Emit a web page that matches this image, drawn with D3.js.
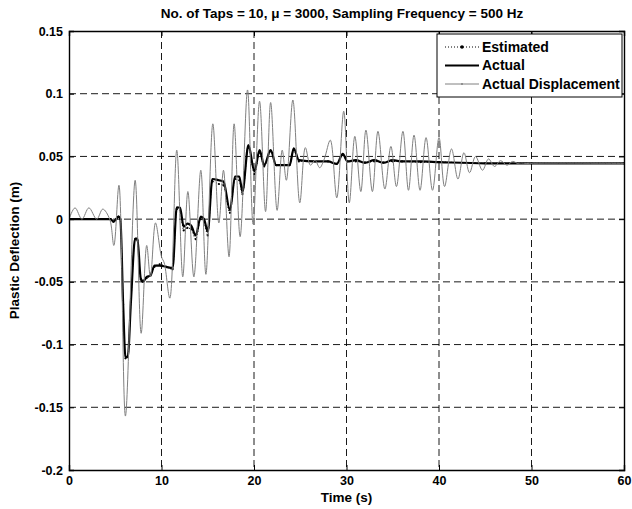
<!DOCTYPE html>
<html>
<head>
<meta charset="utf-8">
<script src="https://cdn.jsdelivr.net/npm/d3@7"></script>
<style>
  body { margin: 0; background: #fff; }
  svg { display: block; font-family: Arial, "Liberation Sans", sans-serif; }
</style>
</head>
<body>
<svg id="chart"></svg>
<script>
// values
var dispT = [0, 0.65, 1.4, 2.15, 3.0, 3.65, 4.4, 4.85, 5.4, 6.1, 7.15, 7.8, 8.4, 8.8, 9.35, 10.0, 10.3, 10.9, 11.65, 12.3, 12.85, 13.5, 14.25, 14.8, 15.55, 16.2, 16.7, 17.3, 17.85, 18.5, 19.3, 19.9, 20.6, 21.25, 21.8, 22.5, 23.05, 23.5, 24.2, 24.95, 25.55, 26.1, 26.6, 27.1, 27.6, 28.25, 28.95, 29.7, 30.3, 30.9, 31.55, 32.1, 32.8, 33.4, 34.15, 34.8, 35.4, 36.1, 36.7, 37.3, 37.95, 38.6, 39.3, 40.0, 40.6, 41.35, 42.05, 42.7, 43.3, 43.95, 44.7, 45.35, 46.0, 46.65, 47.35, 47.95, 48.65, 49.8, 60]
var dispV = [0, 0.009, 0, 0.009, 0, 0.008, 0, -0.021, 0.027, -0.157, 0.031, -0.091, -0.021, -0.046, -0.003, -0.030, -0.035, -0.063, 0.055, -0.046, 0.022, -0.046, 0.039, -0.044, 0.076, -0.003, 0.039, -0.030, 0.076, -0.014, 0.103, -0.004, 0.094, 0.006, 0.093, 0.007, 0.055, 0.031, 0.095, 0.013, 0.057, 0.043, 0.047, 0.041, 0.048, 0.063, 0.017, 0.086, 0.013, 0.066, 0.022, 0.071, 0.022, 0.070, 0.024, 0.058, 0.026, 0.070, 0.023, 0.067, 0.023, 0.065, 0.023, 0.065, 0.026, 0.056, 0.032, 0.053, 0.037, 0.050, 0.039, 0.048, 0.042, 0.0466, 0.043, 0.046, 0.044, 0.0445, 0.0445]

var actT = [0, 4.5, 4.8, 5.1, 5.35, 5.55, 5.85, 6.1, 6.35, 6.7, 7.15, 7.4, 7.75, 8.0, 8.4, 8.8, 9.25, 9.8, 10.5, 11.2, 11.65, 12.0, 12.4, 12.8, 13.2, 13.7, 14.25, 14.6, 15.0, 15.5, 16.2, 16.7, 17.4, 17.95, 18.4, 18.75, 19.4, 20.05, 20.6, 21.1, 21.8, 22.4, 23.85, 24.3, 24.85, 26.6, 28.0, 28.95, 29.6, 30.1, 31.0, 32.0, 33.0, 34.0, 35.0, 36.0, 38.0, 40.0, 45.0, 50.0, 60]
var actV = [0, 0, -0.002, 0, 0.002, 0, -0.067, -0.110, -0.110, -0.065, -0.0155, -0.0155, -0.047, -0.050, -0.046, -0.045, -0.037, -0.037, -0.038, -0.039, 0.0095, 0.009, -0.006, -0.0035, -0.005, -0.013, 0.002, 0.0, -0.010, 0.032, 0.031, 0.030, 0.007, 0.034, 0.034, 0.022, 0.059, 0.038, 0.055, 0.043, 0.055, 0.043, 0.043, 0.0565, 0.047, 0.046, 0.046, 0.044, 0.052, 0.046, 0.047, 0.045, 0.047, 0.045, 0.047, 0.046, 0.046, 0.0455, 0.0445, 0.0445, 0.0445]
var estV = [0, 0, -0.002, 0, 0.002, 0, -0.068, -0.111, -0.109, -0.066, -0.016, -0.017, -0.048, -0.049, -0.047, -0.045, -0.038, -0.036, -0.038, -0.040, 0.008, 0.007, -0.009, -0.007, -0.008, -0.016, 0.000, -0.002, -0.013, 0.030, 0.028, 0.027, 0.005, 0.032, 0.031, 0.020, 0.057, 0.036, 0.053, 0.042, 0.054, 0.043, 0.043, 0.055, 0.046, 0.046, 0.046, 0.044, 0.051, 0.046, 0.046, 0.045, 0.046, 0.045, 0.046, 0.046, 0.0455, 0.0455, 0.0445, 0.0445, 0.0445]

var xTicks = [0, 10, 20, 30, 40, 50, 60]
var yTicks = [0.15, 0.1, 0.05, 0, -0.05, -0.1, -0.15, -0.2]
var yTickLabels = ["0.15", "0.1", "0.05", "0", "-0.05", "-0.1", "-0.15", "-0.2"]
var seriesNames = ["Estimated", "Actual", "Actual Displacement"]

var W = 632, H = 509
var padL = 69, padR = 624, padT = 31, padB = 470
var grey = "#808080"

var svg = d3.select("#chart").attr("width", W).attr("height", H)
svg.append("rect").attr("width", W).attr("height", H).attr("fill", "#fff")

var x = d3.scaleLinear().domain([0, 60]).range([padL, padR])
var y = d3.scaleLinear().domain([-0.2, 0.15]).range([padB, padT])

function pts(ts, vs) {
  return ts.map(function(t, i) { return [t, vs[i]] })
}

// grid
var grid = svg.append("g")
grid.selectAll(".gx").data(xTicks.slice(1, -1)).enter().append("line")
  .attr("x1", function(d) { return x(d) }).attr("x2", function(d) { return x(d) })
  .attr("y1", padT).attr("y2", padB)
  .attr("stroke", "#000").attr("stroke-width", 0.9).attr("stroke-dasharray", "7,4")
grid.selectAll(".gy").data(yTicks.slice(1, -1)).enter().append("line")
  .attr("y1", function(d) { return y(d) }).attr("y2", function(d) { return y(d) })
  .attr("x1", padL).attr("x2", padR)
  .attr("stroke", "#000").attr("stroke-width", 0.9).attr("stroke-dasharray", "7,4")

svg.append("clipPath").attr("id", "clip").append("rect")
  .attr("x", padL).attr("y", padT).attr("width", padR - padL).attr("height", padB - padT)
var plot = svg.append("g").attr("clip-path", "url(#clip)")

var estData = pts(actT, estV)
var estLine = d3.line().x(function(d) { return x(d[0]) }).y(function(d) { return y(d[1]) }).curve(d3.curveMonotoneX)
plot.append("path").attr("d", estLine(estData))
  .attr("fill", "none").attr("stroke", "#000").attr("stroke-width", 1).attr("stroke-dasharray", "1,2")
plot.selectAll(".estDot").data(estData).enter().append("circle")
  .attr("cx", function(d) { return x(d[0]) }).attr("cy", function(d) { return y(d[1]) })
  .attr("r", 1.1).attr("fill", "#000")

var actLine = d3.line().x(function(d) { return x(d[0]) }).y(function(d) { return y(d[1]) }).curve(d3.curveMonotoneX)
plot.append("path").attr("d", actLine(pts(actT, actV)))
  .attr("fill", "none").attr("stroke", "#000").attr("stroke-width", 2.2).attr("stroke-linejoin", "round")

var dispLine = d3.line().x(function(d) { return x(d[0]) }).y(function(d) { return y(d[1]) }).curve(d3.curveCatmullRom.alpha(0.5))
plot.append("path").attr("d", dispLine(pts(dispT, dispV)))
  .attr("fill", "none").attr("stroke", grey).attr("stroke-width", 1)

// axes
svg.append("g").attr("transform", "translate(0," + padB + ")")
  .call(d3.axisBottom(x).tickValues(xTicks).tickSize(-5).tickPadding(6).tickFormat(d3.format("d")))
svg.append("g").attr("transform", "translate(" + padL + ",0)")
  .call(d3.axisLeft(y).tickValues(yTicks).tickSize(-5).tickPadding(6)
    .tickFormat(function(d, i) { return yTickLabels[i] }))
svg.append("g").attr("transform", "translate(0," + padT + ")")
  .call(d3.axisTop(x).tickValues(xTicks).tickSize(-5).tickFormat(""))
svg.append("g").attr("transform", "translate(" + padR + ",0)")
  .call(d3.axisRight(y).tickValues(yTicks).tickSize(-5).tickFormat(""))
svg.selectAll(".domain").attr("stroke", "#000").attr("stroke-width", 1.4)
svg.selectAll(".tick line").attr("stroke", "#000")
svg.selectAll(".tick text").attr("fill", "#000").attr("font-size", 12.5).attr("font-weight", "bold")
  .attr("font-family", "Arial, 'Liberation Sans', sans-serif")

// labels
svg.append("text").attr("x", 342).attr("y", 18).attr("text-anchor", "middle")
  .attr("font-size", 13.5).attr("font-weight", "bold")
  .text("No. of Taps = 10, \u03bc = 3000, Sampling Frequency = 500 Hz")
svg.append("text").attr("x", (padL + padR) / 2).attr("y", 502).attr("text-anchor", "middle")
  .attr("font-size", 13.5).attr("font-weight", "bold").text("Time (s)")
svg.append("text").attr("transform", "translate(19," + (padT + padB) / 2 + ") rotate(-90)")
  .attr("text-anchor", "middle").attr("font-size", 13.5).attr("font-weight", "bold")
  .text("Plastic Deflection  (m)")

// legend
var lg = svg.append("g").attr("transform", "translate(437,34)")
lg.append("rect").attr("width", 185).attr("height", 63).attr("fill", "#fff")
  .attr("stroke", "#000").attr("stroke-width", 1)
var rows = lg.selectAll(".row").data(seriesNames).enter().append("g")
  .attr("transform", function(d, i) { return "translate(0," + (13 + i * 18.5) + ")" })
rows.append("line").attr("x1", 8).attr("x2", 42)
  .attr("stroke", function(d, i) { return i === 2 ? grey : "#000" })
  .attr("stroke-width", function(d, i) { return i === 1 ? 2.2 : 1 })
  .attr("stroke-dasharray", function(d, i) { return i === 0 ? "1,2" : null })
rows.filter(function(d, i) { return i !== 1 }).append("circle").attr("cx", 25)
  .attr("r", function(d) { return d === "Estimated" ? 1.8 : 1 })
  .attr("fill", function(d) { return d === "Estimated" ? "#000" : grey })
rows.append("text").attr("x", 45).attr("dy", "0.35em")
  .attr("font-size", 14).attr("font-weight", "bold").text(function(d) { return d })
</script>
</body>
</html>
